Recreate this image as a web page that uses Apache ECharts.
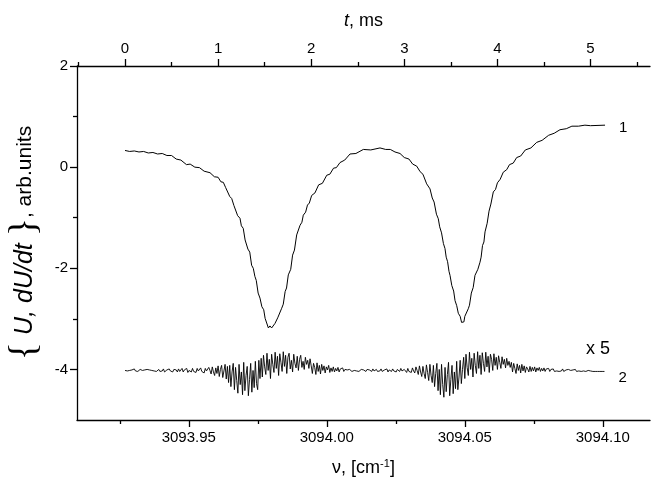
<!DOCTYPE html>
<html>
<head>
<meta charset="utf-8">
<script src="https://cdn.jsdelivr.net/npm/echarts@6/dist/echarts.min.js"></script>
<style>html,body{margin:0;padding:0;background:#fff}#c{width:651px;height:489px}</style>
</head>
<body>
<div id="c"></div>
<script>
// ---- axis ranges / ticks ----
const NU_MIN = 3093.9095, NU_MAX = 3094.1171;
const T_MIN = -0.5156, T_MAX = 5.639;
const Y_MIN = -5, Y_MAX = 2;
const nuMajor = [3093.95, 3094.00, 3094.05, 3094.10];
const nuMinor = [3093.925, 3093.975, 3094.025, 3094.075];
const tMajor = [0, 1, 2, 3, 4, 5];
const tMinor = [-0.5, 0.5, 1.5, 2.5, 3.5, 4.5, 5.5];
const yMajor = [2, 0, -2, -4];
const yMinor = [1, -1, -3];

// ---- curve 1: U(t), t in ms ----
const c1T = [0.00,0.05,0.10,0.15,0.20,0.25,0.30,0.35,0.40,0.45,0.50,0.55,0.60,0.66,0.70,0.75,0.80,0.85,0.913,0.96,1.00,1.03,1.056,1.08,1.10,1.125,1.146,1.17,1.19,1.21,1.235,1.25,1.27,1.29,1.307,1.32,1.34,1.36,1.378,1.395,1.41,1.43,1.45,1.47,1.49,1.505,1.522,1.54,1.557,1.575,1.59,1.611,1.625,1.64,1.66,1.683,1.70,1.72,1.735,1.754,1.78,1.80,1.82,1.844,1.86,1.88,1.90,1.915,1.94,1.96,1.98,2.005,2.04,2.08,2.12,2.167,2.20,2.24,2.27,2.309,2.36,2.417,2.48,2.56,2.64,2.739,2.80,2.85,2.90,2.954,3.00,3.05,3.09,3.133,3.17,3.20,3.24,3.276,3.30,3.32,3.345,3.365,3.38,3.40,3.42,3.437,3.45,3.465,3.48,3.491,3.51,3.53,3.545,3.563,3.58,3.60,3.615,3.627,3.64,3.65,3.67,3.687,3.70,3.72,3.74,3.759,3.775,3.79,3.80,3.813,3.825,3.84,3.855,3.867,3.89,3.91,3.93,3.956,3.98,4.00,4.03,4.063,4.10,4.13,4.17,4.207,4.25,4.30,4.36,4.422,4.48,4.55,4.61,4.672,4.74,4.80,4.87,4.94,5.00,5.156];
const c1V = [
0.33,0.31,0.32,0.30,0.31,0.28,0.29,0.26,0.27,0.23,
0.23,0.16,0.14,0.05,0.06,0.00,-0.01,-0.08,-0.11,-0.19,
-0.20,-0.29,-0.30,-0.40,-0.43,-0.58,-0.62,-0.76,-0.79,-0.96,
-1.01,-1.16,-1.21,-1.44,-1.47,-1.62,-1.68,-1.94,-2.00,-2.16,
-2.24,-2.49,-2.59,-2.76,-2.82,-2.99,-3.02,-3.18,-3.14,-3.18,
-3.21,-3.09,-3.11,-2.98,-2.98,-2.79,-2.71,-2.46,-2.39,-2.13,
-2.02,-1.74,-1.64,-1.34,-1.33,-1.15,-1.09,-0.95,-0.89,-0.75,
-0.71,-0.56,-0.51,-0.35,-0.32,-0.16,-0.14,-0.02,-0.01,0.09,
0.14,0.26,0.27,0.35,0.34,0.38,0.35,0.35,0.30,0.27,
0.19,0.16,0.06,0.02,-0.09,-0.14,-0.33,-0.43,-0.61,-0.69,
-0.93,-1.02,-1.18,-1.30,-1.51,-1.61,-1.78,-1.87,-2.06,-2.14,
-2.34,-2.45,-2.64,-2.74,-2.89,-2.95,-3.07,-3.08,-3.06,-2.95,
-2.93,-2.80,-2.73,-2.49,-2.38,-2.14,-2.15,-2.02,-2.01,-1.88,
-1.78,-1.55,-1.48,-1.28,-1.11,-0.87,-0.73,-0.49,-0.44,-0.31,
-0.24,-0.10,-0.05,0.05,0.08,0.19,0.22,0.34,0.38,0.49,
0.53,0.63,0.67,0.74,0.76,0.81,0.81,0.83,0.82,0.83];

// ---- curve 2: dU/dt x5, sampled from t = 0 ms every 0.0125 ms ----
const c2T0 = 0, c2Step = 0.0125;
const c2V = [
-4.02,-4.01,-4.03,-4.00,-4.02,-4.04,-4.01,-4.02,-3.99,-4.03,
-4.02,-4.04,-4.01,-4.00,-4.03,-4.02,-4.05,-4.01,-4.02,-4.00,
-4.03,-4.01,-4.04,-4.02,-3.99,-4.03,-4.01,-4.04,-4.02,-4.00,
-4.04,-4.01,-4.03,-3.99,-4.05,-4.02,-4.01,-4.04,-3.99,-4.03,
-4.02,-4.05,-4.00,-4.03,-4.01,-4.05,-3.99,-4.04,-4.02,-3.98,
-4.05,-4.01,-4.03,-3.98,-4.06,-4.02,-4.00,-4.05,-3.98,-4.04,
-4.01,-4.06,-3.98,-4.03,-4.05,-3.97,-4.04,-4.01,-4.07,-3.98,
-4.03,
-4.06,-3.96,-4.02,-4.09,-3.95,-4.05,-4.12,-3.97,-4.08,-3.93,-4.14,-4.00,-3.92,-4.16,-4.03,-3.90,-4.19,-3.94,
-4.26,-3.92,-4.34,-4.05,-3.88,-4.40,-3.96,-4.22,-4.47,-3.90,
-4.30,-4.05,-4.50,-3.86,-4.42,-4.12,-3.94,-4.52,-4.20,-3.88,
-4.45,-4.02,-4.36,-3.84,-4.28,-4.40,-3.82,-4.18,
-3.78,-4.15,-3.72,-3.95,-4.10,-3.68,-4.02,-3.80,-4.18,-3.70,
-3.90,-4.06,-3.66,-3.98,-3.74,-4.12,-3.69,-3.86,-4.04,-3.65,
-3.94,-3.72,-4.08,-3.76,-3.68,-3.99,-3.82,-4.05,-3.70,-3.88,
-3.97,-3.74,-4.02,-3.80,-3.72,-3.96,-3.84,-4.00,-3.76,-3.90,
-3.82,-3.98,-3.79,-3.93,
-4.08,-3.88,-3.96,-4.10,-3.87,-4.04,-3.92,-4.09,-3.90,-4.02,
-3.93,-4.07,-3.95,-4.01,-3.92,-4.06,-3.97,-4.04,-3.95,-4.05,
-3.98,-4.03,-3.96,-4.05,-3.99,-4.02,-3.97,-4.04,-4.00,-4.03,
-4.01,-4.03,-4.00,-4.02,-4.04,-4.01,-4.02,-3.99,-4.03,-4.01,
-4.04,-4.02,-4.00,-4.03,-4.01,-4.02,-4.04,-4.00,-4.03,-4.01,
-4.02,-4.04,-3.99,-4.03,-4.02,-4.00,-4.04,-4.01,-4.03,-3.99,
-4.04,-4.02,-4.01,-4.03,-3.99,-4.05,-4.01,-4.02,-4.04,-3.99,
-4.03,-4.01,-4.05,-4.00,-4.02,-4.04,-3.98,-4.03,-4.05,-4.00,
-4.02,-4.06,-3.98,-4.04,-4.01,-4.06,-3.97,-4.03,
-4.07,-3.95,-4.02,-4.10,-3.93,-4.05,-4.14,-3.94,-4.08,-4.18,-3.91,-4.06,-4.22,-3.90,-4.12,-4.26,
-3.92,-4.34,-4.08,-3.88,-4.42,-4.00,-4.50,-3.90,-4.30,-4.55,
-3.96,-4.44,-4.10,-3.86,-4.52,-4.20,-3.92,-4.48,-4.05,-4.38,
-3.84,-4.40,-4.15,-3.82,-4.28,-4.00,
-3.76,-4.18,-3.70,-3.96,-4.12,-3.66,-4.00,-3.78,-4.15,-3.68,
-3.92,-4.08,-3.65,-3.98,-3.72,-4.10,-3.67,-3.88,-4.04,-3.66,
-3.95,-3.74,-4.06,-3.70,-3.80,-4.02,-3.69,-3.92,-3.76,-4.00,
-3.73,-3.86,-3.98,-3.75,-3.90,-3.80,-3.97,-3.78,-3.92,-3.84,
-3.96,-3.86,
-4.05,-3.88,-3.98,-4.08,-3.89,-4.02,-3.92,-4.07,-3.90,-4.03,
-3.93,-4.06,-3.95,-3.99,-4.05,-3.94,-4.04,-3.96,-4.03,-3.95,
-4.05,-3.97,-4.02,-3.96,-4.04,-3.98,-4.03,-3.97,-4.04,-3.99,
-4.02,-3.98,-4.04,-4.00,-4.03,-3.99,-4.04,-4.01,
-4.03,-4.00,-4.04,-4.01,-4.03,-3.99,-4.04,-4.02,-4.01,-4.04,
-4.00,-4.03,-4.02,-4.05,-4.01,-4.03,-4.00,-4.04,-4.02,-4.03,
-4.01,-4.04,-4.02,-4.03,-4.01,-4.04,-4.03,-4.02,-4.04,-4.03,
-4.02,-4.04,-4.03,-4.04,-4.02,-4.04,-4.03,-4.04,-4.03,-4.04,
-4.03,-4.04];

const curveLabels = ['1', '2'];
const scaleNote = 'x 5';

// ---- build ----
const FONT = 'Liberation Sans, Arial, sans-serif';
const SERIF = 'Liberation Serif, serif';
const c1 = c1T.map((t, i) => [t, c1V[i]]);
const c2 = c2V.map((v, i) => [c2T0 + i * c2Step, v]);
const axisLine = { show: true, onZero: false, lineStyle: { color: '#000', width: 1.3 } };
const noLine = { show: false, onZero: false };
const tickStyle = { color: '#000', width: 1.3 };
const chart = echarts.init(document.getElementById('c'), null, { renderer: 'canvas' });
chart.setOption({
  animation: false,
  backgroundColor: '#fff',
  grid: { left: 77, right: 1, top: 66, bottom: 69, containLabel: false, outerBoundsMode: 'none' },
  xAxis: [
    { type: 'value', position: 'bottom', min: NU_MIN, max: NU_MAX, axisLine,
      axisTick: { show: true, customValues: nuMajor, length: 7, lineStyle: tickStyle },
      axisLabel: { show: true, customValues: nuMajor, formatter: v => v.toFixed(2), color: '#000', fontSize: 15, fontFamily: FONT, margin: 10 },
      splitLine: { show: false },
      name: 'ν, [cm{sup|-1}]', nameLocation: 'middle', nameGap: 38,
      nameTextStyle: { color: '#000', fontSize: 18, fontFamily: FONT,
        rich: { sup: { fontSize: 11, fontFamily: FONT, color: '#000', padding: [0, 0, 9, 0] } } } },
    { type: 'value', position: 'bottom', min: NU_MIN, max: NU_MAX, axisLine: noLine,
      axisTick: { show: true, customValues: nuMinor, length: 4, lineStyle: tickStyle },
      axisLabel: { show: false }, splitLine: { show: false } },
    { type: 'value', position: 'top', min: T_MIN, max: T_MAX, axisLine,
      axisTick: { show: true, customValues: tMajor, length: 7, lineStyle: tickStyle },
      axisLabel: { show: true, customValues: tMajor, color: '#000', fontSize: 15, fontFamily: FONT, margin: 10 },
      splitLine: { show: false },
      name: '{it|t}, ms', nameLocation: 'middle', nameGap: 36,
      nameTextStyle: { color: '#000', fontSize: 18, fontFamily: FONT,
        rich: { it: { fontStyle: 'italic', fontSize: 18, fontFamily: FONT, color: '#000' } } } },
    { type: 'value', position: 'top', min: T_MIN, max: T_MAX, axisLine: noLine,
      axisTick: { show: true, customValues: tMinor, length: 4, lineStyle: tickStyle },
      axisLabel: { show: false }, splitLine: { show: false } }
  ],
  yAxis: [
    { type: 'value', position: 'left', min: Y_MIN, max: Y_MAX, axisLine,
      axisTick: { show: true, customValues: yMajor, length: 7, lineStyle: tickStyle },
      axisLabel: { show: true, customValues: yMajor, color: '#000', fontSize: 15, fontFamily: FONT, margin: 9 },
      splitLine: { show: false },
      name: '{br|{}{it| U, dU/dt }}{tx|, arb.units}', nameLocation: 'middle', nameGap: 30, nameRotate: 90,
      nameTextStyle: { color: '#000', fontSize: 38, fontFamily: SERIF,
        rich: {
          br: { fontSize: 38, fontFamily: SERIF, color: '#000' },
          it: { fontStyle: 'italic', fontSize: 25, fontFamily: FONT, color: '#000' },
          tx: { fontSize: 21, fontFamily: FONT, color: '#000' } } } },
    { type: 'value', position: 'left', min: Y_MIN, max: Y_MAX, axisLine: noLine,
      axisTick: { show: true, customValues: yMinor, length: 4, lineStyle: tickStyle },
      axisLabel: { show: false }, splitLine: { show: false } }
  ],
  series: [
    { type: 'line', xAxisIndex: 2, yAxisIndex: 0, data: c1, showSymbol: false, symbol: 'none',
      lineStyle: { color: '#000', width: 1 },
      endLabel: { show: true, formatter: curveLabels[0], color: '#000', fontSize: 15, fontFamily: FONT, offset: [6, 3] } },
    { type: 'line', xAxisIndex: 2, yAxisIndex: 0, data: c2, showSymbol: false, symbol: 'none',
      lineStyle: { color: '#000', width: 0.9 },
      endLabel: { show: true, formatter: curveLabels[1], color: '#000', fontSize: 15, fontFamily: FONT, offset: [6, 6] } }
  ],
  graphic: [
    { type: 'text', left: 586, top: 340, style: { text: scaleNote, fill: '#000', font: '18px ' + FONT } }
  ]
});
</script>
</body>
</html>
